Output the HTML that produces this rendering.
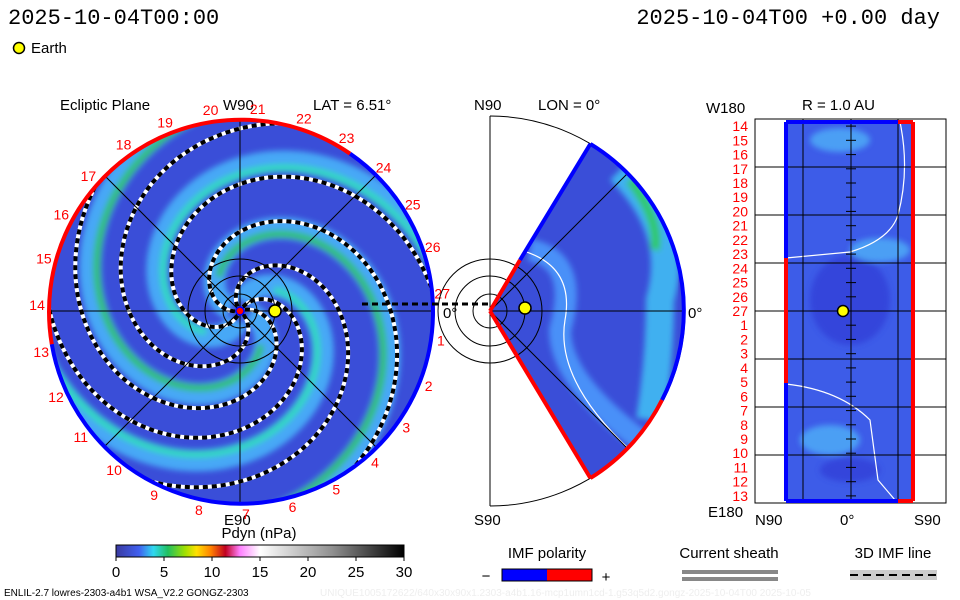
<!DOCTYPE html>
<html><head><meta charset="utf-8">
<style>
body{margin:0;background:#fff;}
svg{display:block;font-family:"Liberation Sans",sans-serif;}
.m{font-family:"Liberation Mono",monospace;}
</style></head>
<body>
<svg id="s" width="960" height="600" viewBox="0 0 960 600">
<defs>
<clipPath id="pc"><circle cx="240" cy="311" r="192"/></clipPath>
<clipPath id="wc"><path d="M490,311 L590.4,143.9 A195,195 0 0 1 590.4,478.1 Z"/></clipPath>
<filter id="bl"><feGaussianBlur stdDeviation="3"/></filter>
<linearGradient id="cb" x1="0" x2="1">
<stop offset="0" stop-color="#3a3aa0"/><stop offset="0.08" stop-color="#4060f0"/>
<stop offset="0.13" stop-color="#30d8f0"/><stop offset="0.18" stop-color="#20c060"/>
<stop offset="0.24" stop-color="#a0e000"/><stop offset="0.28" stop-color="#ffe000"/>
<stop offset="0.33" stop-color="#ff8000"/><stop offset="0.38" stop-color="#c00020"/>
<stop offset="0.43" stop-color="#ff80ff"/><stop offset="0.5" stop-color="#ffffff"/>
<stop offset="0.75" stop-color="#909090"/><stop offset="1" stop-color="#000"/>
</linearGradient>
</defs>

<text class="m" x="8" y="24" font-size="22">2025-10-04T00:00</text>
<text class="m" x="940" y="24" font-size="22" text-anchor="end">2025-10-04T00 +0.00 day</text>
<circle cx="19" cy="48" r="5.5" fill="#ff0" stroke="#000" stroke-width="1.5"/>
<text x="31" y="53" font-size="15">Earth</text>

<g>
<text x="60" y="110" font-size="15">Ecliptic Plane</text>
<text x="223" y="110" font-size="15">W90</text>
<text x="313" y="110" font-size="15">LAT = 6.51°</text>
<text x="224" y="525" font-size="15">E90</text>
<text x="443" y="318" font-size="15">0°</text>
<g clip-path="url(#pc)">
<circle cx="240" cy="311" r="192" fill="#3a4ed8"/>
<g id="bands" filter="url(#bl)"></g>
<g id="dashes"></g>
<g stroke="#000" stroke-width="1" fill="none">
<line x1="48" y1="311" x2="432" y2="311"/><line x1="240" y1="119" x2="240" y2="503"/>
<line x1="104" y1="175" x2="376" y2="447"/><line x1="104" y1="447" x2="376" y2="175"/>
<circle cx="240" cy="311" r="17"/><circle cx="240" cy="311" r="35"/><circle cx="240" cy="311" r="52"/>
</g>
</g>
<path d="M51.8,344.3 A192,192 0 0 1 350.1,153.7" fill="none" stroke="#f00" stroke-width="4"/>
<path d="M350.1,153.7 A192,192 0 1 1 51.8,344.3" fill="none" stroke="#00f" stroke-width="4"/>
<g id="plabels" fill="#f00" font-size="14"></g>
<circle cx="240" cy="311" r="4" fill="#f00" stroke="#00f" stroke-width="1.5"/>
<circle cx="275" cy="311" r="6" fill="#ff0" stroke="#000" stroke-width="1.5"/>
</g>

<line x1="362" y1="304" x2="490" y2="304" stroke="#000" stroke-width="3" stroke-dasharray="6,4"/>

<g>
<text x="474" y="110" font-size="15">N90</text>
<text x="538" y="110" font-size="15">LON = 0°</text>
<text x="474" y="525" font-size="15">S90</text>
<text x="688" y="318" font-size="15">0°</text>
<path d="M490,116 A195,195 0 0 1 490,506" fill="none" stroke="#000" stroke-width="1"/>
<line x1="490" y1="116" x2="490" y2="506" stroke="#000"/>
<g clip-path="url(#wc)">
<rect x="490" y="116" width="200" height="390" fill="#3a4ed8"/>
<g filter="url(#bl)" fill="none">
<path d="M530,250 Q580,260 560,330 Q560,380 640,440" stroke="#4a90f8" stroke-width="22"/>
<path d="M620,170 Q680,230 660,300 Q660,360 650,420" stroke="#40b0f0" stroke-width="28"/>
<path d="M630,180 Q660,220 655,250" stroke="#30c870" stroke-width="10"/>
</g>
<path d="M520,250 Q575,265 565,320 Q555,380 630,450" fill="none" stroke="#fff" stroke-width="1.2"/>
</g>
<g stroke="#000" fill="none">
<line x1="490" y1="311" x2="685" y2="311"/><line x1="490" y1="311" x2="628" y2="173"/><line x1="490" y1="311" x2="628" y2="449"/>
<circle cx="490" cy="311" r="17"/><circle cx="490" cy="311" r="35"/><circle cx="490" cy="311" r="52"/>
</g>
<line x1="490" y1="311" x2="520" y2="260" stroke="#f00" stroke-width="4"/>
<line x1="520" y1="260" x2="590.4" y2="143.9" stroke="#00f" stroke-width="4"/>
<line x1="490" y1="311" x2="590.4" y2="478.1" stroke="#f00" stroke-width="4"/>
<path d="M590.4,143.9 A195,195 0 0 1 662,400" fill="none" stroke="#00f" stroke-width="4"/>
<path d="M662,400 A195,195 0 0 1 590.4,478.1" fill="none" stroke="#f00" stroke-width="4"/>
<circle cx="525" cy="308" r="6" fill="#ff0" stroke="#000" stroke-width="1.5"/>
</g>

<g>
<text x="802" y="110" font-size="15">R = 1.0 AU</text>
<text x="706" y="113" font-size="15">W180</text>
<text x="708" y="517" font-size="15">E180</text>
<text x="755" y="525" font-size="15">N90</text>
<text x="840" y="525" font-size="15">0°</text>
<text x="914" y="525" font-size="15">S90</text>
<rect x="755" y="119" width="191" height="384" fill="#fff" stroke="#000"/>
<rect x="786" y="122" width="127" height="379" fill="#3d5ce8"/>
<g filter="url(#bl)" opacity="0.8">
<ellipse cx="840" cy="140" rx="30" ry="12" fill="#50b0f8"/>
<ellipse cx="850" cy="300" rx="40" ry="45" fill="#3040d8"/>
<ellipse cx="880" cy="250" rx="30" ry="12" fill="#50b0f8"/>
<ellipse cx="830" cy="440" rx="30" ry="15" fill="#50b0f8"/>
<ellipse cx="850" cy="470" rx="30" ry="12" fill="#3040d8"/>
</g>
<path d="M900,122 Q910,170 898,215 Q890,240 850,252 L786,258" fill="none" stroke="#fff" stroke-width="1.2"/>
<path d="M786,384 Q840,390 870,420 L878,480 L895,500" fill="none" stroke="#fff" stroke-width="1.2"/>
<g stroke="#000" fill="none">
<line x1="803" y1="119" x2="803" y2="503"/><line x1="851" y1="119" x2="851" y2="503"/><line x1="898" y1="119" x2="898" y2="503"/>
</g>
<g id="hgrid" stroke="#000"></g>
<line x1="786" y1="122" x2="786" y2="258" stroke="#00f" stroke-width="4"/>
<line x1="786" y1="258" x2="786" y2="383" stroke="#f00" stroke-width="4"/>
<line x1="786" y1="383" x2="786" y2="501" stroke="#00f" stroke-width="4"/>
<line x1="913" y1="122" x2="913" y2="501" stroke="#f00" stroke-width="4"/>
<line x1="786" y1="122" x2="898" y2="122" stroke="#00f" stroke-width="4"/>
<line x1="898" y1="122" x2="913" y2="122" stroke="#f00" stroke-width="4"/>
<line x1="786" y1="501" x2="898" y2="501" stroke="#00f" stroke-width="4"/>
<line x1="898" y1="501" x2="913" y2="501" stroke="#f00" stroke-width="4"/>
<g id="rlabels" fill="#f00" font-size="14" text-anchor="end"></g>
<circle cx="843" cy="311" r="5.5" fill="#ff0" stroke="#000" stroke-width="1.5"/>
</g>

<g>
<text x="259" y="538" font-size="15" text-anchor="middle">Pdyn (nPa)</text>
<rect x="116" y="545" width="288" height="12" fill="url(#cb)" stroke="#000"/>
<g id="cbt" font-size="15" text-anchor="middle"></g>
</g>

<g>
<text x="547" y="558" font-size="15" text-anchor="middle">IMF polarity</text>
<rect x="502" y="569" width="45" height="12" fill="#00f"/><rect x="547" y="569" width="45" height="12" fill="#f00"/>
<rect x="502" y="569" width="90" height="12" fill="none" stroke="#000"/>
<text x="486" y="581" font-size="15" text-anchor="middle">−</text>
<text x="606" y="582" font-size="15" text-anchor="middle">+</text>
</g>
<g>
<text x="729" y="558" font-size="15" text-anchor="middle">Current sheath</text>
<rect x="682" y="570" width="96" height="4" fill="#888"/><rect x="682" y="577" width="96" height="4" fill="#888"/>
</g>
<g>
<text x="893" y="558" font-size="15" text-anchor="middle">3D IMF line</text>
<rect x="850" y="570" width="87" height="10" fill="#ccc"/>
<line x1="850" y1="575" x2="937" y2="575" stroke="#000" stroke-width="2" stroke-dasharray="8,5"/>
</g>
<text x="4" y="596" font-size="10">ENLIL-2.7 lowres-2303-a4b1 WSA_V2.2 GONGZ-2303</text>
<text x="320" y="596" font-size="10" fill="#eee">UNIQUE1005172622/640x30x90x1.2303-a4b1.16-mcp1umn1cd-1.g53q5d2.gongz-2025-10-04T00   2025-10-05</text>
</svg>
<script>
var cbTicks=[0,5,10,15,20,25,30];
var polarLabels=[1,2,3,4,5,6,7,8,9,10,11,12,13,14,15,16,17,18,19,20,21,22,23,24,25,26,27];
var radialLabels=[14,15,16,17,18,19,20,21,22,23,24,25,26,27,1,2,3,4,5,6,7,8,9,10,11,12,13];
var armOffsets=[0,90,180,270];
var dashOffsets=[-20,40,110,170,235,300];
var NS="http://www.w3.org/2000/svg";
function mk(t,p,a){var e=document.createElementNS(NS,t);for(var k in a)e.setAttribute(k,a[k]);p.appendChild(e);return e;}
var cx=240,cy=311;
function spiral(th0,r0,r1){var d="";for(var r=r0;r<=r1;r+=2){var a=(th0*Math.PI/180)+r*0.022;d+=(d?"L":"M")+(cx+r*Math.cos(a)).toFixed(1)+","+(cy+r*Math.sin(a)).toFixed(1);}return d;}
var bands=document.getElementById("bands");
armOffsets.forEach(function(o,i){
 var p=mk("path",bands,{d:spiral(o,10,260),fill:"none",stroke:"#46a8f6","stroke-width":22});
 
 
 var g=mk("path",bands,{d:spiral(o+8,40,260),fill:"none",stroke:i%2?"#30d8c0":"#30c070","stroke-width":7});
 
 
});
var dsh=document.getElementById("dashes");
dashOffsets.forEach(function(o){
 var d=spiral(o,5,200);
 var w=mk("path",dsh,{d:d,fill:"none",stroke:"#fff","stroke-width":4});
 
 
 var b=mk("path",dsh,{d:d,fill:"none",stroke:"#000","stroke-width":4,"stroke-dasharray":"5,4"});
 
 
});
var pl=document.getElementById("plabels");
polarLabels.forEach(function(k){
 var a=(-5-(27-k)*360/27)*Math.PI/180;
 var t=mk("text",pl,{x:(cx+203*Math.cos(a)).toFixed(1),y:(cy+203*Math.sin(a)+5).toFixed(1),"text-anchor":"middle"});
 
 
 t.textContent=k;
});
var rl=document.getElementById("rlabels");
var step=384/27;
radialLabels.forEach(function(k,i){
 var t=mk("text",rl,{x:748,y:(119+step*(i+0.5)+5).toFixed(1)});
 
 
 t.textContent=k;
 mk("line",rl,{x1:846,x2:856,y1:(119+step*(i+0.5)).toFixed(1),y2:(119+step*(i+0.5)).toFixed(1),stroke:"#000"});
});
var hg=document.getElementById("hgrid");
[1,2,3,4,5,6,7].forEach(function(j){var y=119+j*48;mk("line",hg,{x1:755,x2:946,y1:y,y2:y});});
var cbt=document.getElementById("cbt");
cbTicks.forEach(function(v){
 var x=116+v/30*288;
 mk("line",cbt,{x1:x,x2:x,y1:557,y2:561,stroke:"#000"});
 var t=mk("text",cbt,{x:x,y:577});
 
 
 t.textContent=v;
});
</script>
</body></html>
